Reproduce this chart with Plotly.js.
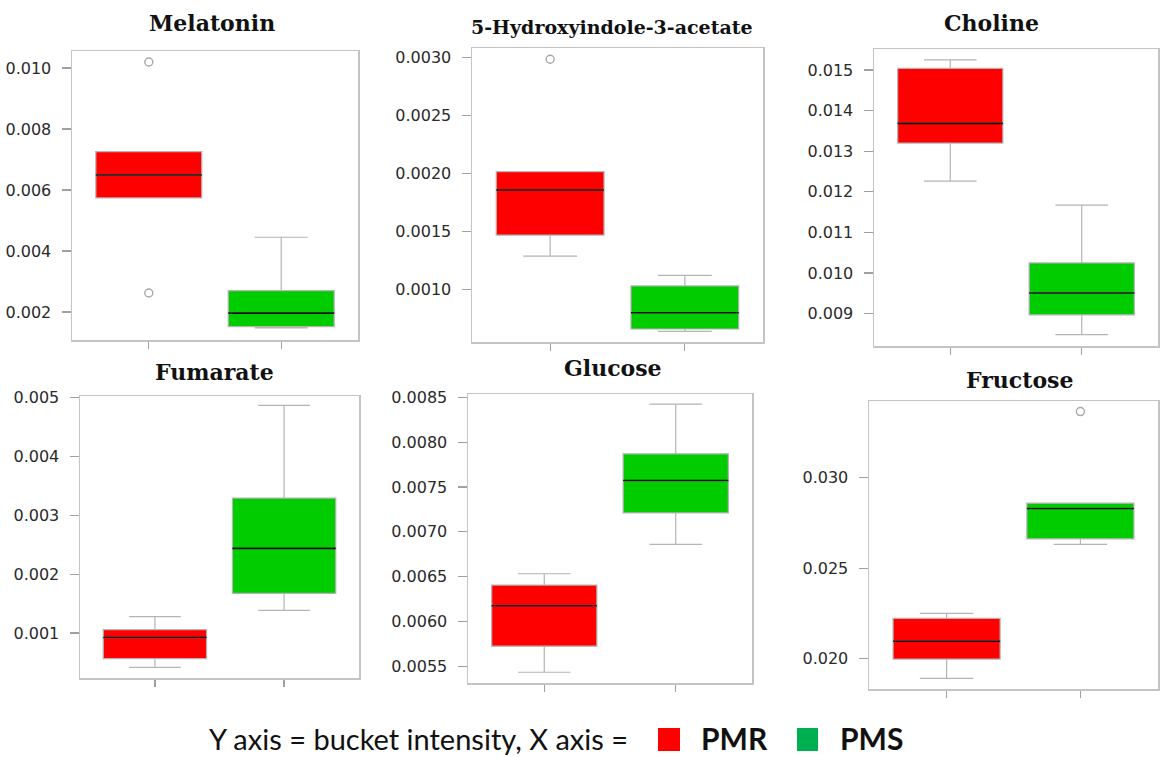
<!DOCTYPE html>
<html>
<head>
<meta charset="utf-8">
<script src="https://cdn.plot.ly/plotly-3.0.1.min.js"></script>
<style>html,body{margin:0;padding:0;background:#fff;}#chart{width:1161px;height:757px;}</style>
</head>
<body>
<div id="chart"></div>
<script>
// ---------- data ----------
const metabolites = ['Melatonin', '5-Hydroxyindole-3-acetate', 'Choline', 'Fumarate', 'Glucose', 'Fructose'];
const groups = ['PMR', 'PMS'];

const pmrLower  = [0.00574, 0.001287, 0.012263, 0.000417, 0.005433, 0.018893];
const pmrQ1     = [0.00574, 0.001468, 0.01320,  0.000565, 0.005724, 0.019961];
const pmrMedian = [0.00649, 0.001856, 0.013685, 0.000922, 0.006175, 0.020946];
const pmrQ3     = [0.00726, 0.002014, 0.01504,  0.001058, 0.006406, 0.022219];
const pmrUpper  = [0.00726, 0.002014, 0.01525,  0.001279, 0.006532, 0.022496];
const pmrOutliers = [[0.0102, 0.00262], [0.002983], [], [], [], []];

const pmsLower  = [0.00148, 0.000638, 0.008482, 0.001384, 0.006861, 0.026314];
const pmsQ1     = [0.00152, 0.000658, 0.008968, 0.001673, 0.007211, 0.026624];
const pmsMedian = [0.00196, 0.000798, 0.009508, 0.002438, 0.007572, 0.028307];
const pmsQ3     = [0.00270, 0.001029, 0.010248, 0.003293, 0.007870, 0.028600];
const pmsUpper  = [0.00445, 0.001120, 0.011671, 0.004869, 0.008426, 0.028600];
const pmsOutliers = [[], [], [], [], [], [0.033675]];

const caption = 'Y axis = bucket intensity, X axis =';

// ---------- layout config ----------
const W = 1161, H = 757;
const frames = [ // [left, right, top, bottom] in px
  [72, 358, 51, 340],
  [472, 763, 48, 342],
  [874, 1158, 49, 346],
  [80, 359, 396, 678],
  [468, 752, 394, 683],
  [869, 1158, 401, 689]
];
const yRanges = [
  [0.00108, 0.01056],
  [0.000546, 0.00308],
  [0.008201, 0.015518],
  [0.000235, 0.005027],
  [0.005313, 0.008538],
  [0.018301, 0.034261]
];
const yDticks = [0.002, 0.0005, 0.001, 0.001, 0.0005, 0.005];
const yFormats = ['.3f', '.4f', '.3f', '.3f', '.4f', '.3f'];
const titlePos = [[212, 23, 22], [612, 27, 19], [991, 23, 22], [214, 372, 22], [613, 368, 22], [1019, 380, 22]];

const colors = {PMR: '#ff0000', PMS: '#00cc00'};
const boxLine = '#b4b4b4';

const px = x => x / W;
const py = y => 1 - y / H;

const traces = [];
const layout = {
  width: W, height: H,
  margin: {l: 0, r: 0, t: 0, b: 0},
  paper_bgcolor: '#fff', plot_bgcolor: '#fff',
  showlegend: false,
  annotations: [], shapes: []
};

metabolites.forEach((name, i) => {
  const n = i + 1;
  const xa = 'x' + (n === 1 ? '' : n), ya = 'y' + (n === 1 ? '' : n);
  const xk = 'xaxis' + (n === 1 ? '' : n), yk = 'yaxis' + (n === 1 ? '' : n);
  const f = frames[i];
  layout[xk] = {
    domain: [px(f[0]), px(f[1])], anchor: ya,
    range: [-0.58, 1.58], tickvals: [0, 1], showticklabels: false,
    ticks: 'outside', ticklen: 7, tickcolor: '#a0a0a0', tickwidth: 1.2,
    showline: true, mirror: true, linecolor: '#c4c4c4', linewidth: 1.5,
    showgrid: false, zeroline: false, fixedrange: true
  };
  layout[yk] = {
    domain: [py(f[3]), py(f[2])], anchor: xa,
    range: yRanges[i], dtick: yDticks[i], tick0: 0, tickformat: yFormats[i],
    ticks: 'outside', ticklen: 9, tickcolor: '#a0a0a0', tickwidth: 1.2,
    ticklabelstandoff: 7,
    tickfont: {family: 'DejaVu Sans', size: 16, color: '#2a2a2a'},
    showline: true, mirror: true, linecolor: '#c4c4c4', linewidth: 1.5,
    showgrid: false, zeroline: false, fixedrange: true
  };
  const groupStats = [
    ['PMR', pmrLower[i], pmrQ1[i], pmrMedian[i], pmrQ3[i], pmrUpper[i], pmrOutliers[i]],
    ['PMS', pmsLower[i], pmsQ1[i], pmsMedian[i], pmsQ3[i], pmsUpper[i], pmsOutliers[i]]
  ];
  groupStats.forEach((g, gi) => {
    traces.push({
      type: 'box', name: g[0], xaxis: xa, yaxis: ya, x: [gi],
      lowerfence: [g[1]], q1: [g[2]], median: [g[3]], q3: [g[4]], upperfence: [g[5]],
      width: 0.8, whiskerwidth: 0.5, boxpoints: false,
      fillcolor: colors[g[0]], line: {color: boxLine, width: 1.2},
      hoverinfo: 'skip'
    });
    traces.push({
      type: 'box', name: g[0] + ' median', xaxis: xa, yaxis: ya, x: [gi],
      lowerfence: [g[3]], q1: [g[3]], median: [g[3]], q3: [g[3]], upperfence: [g[3]],
      width: 0.8, whiskerwidth: 0, boxpoints: false,
      fillcolor: 'rgba(0,0,0,0)', line: {color: '#111', width: 1.6},
      hoverinfo: 'skip'
    });
    if (g[6].length) {
      traces.push({
        type: 'scatter', mode: 'markers', name: g[0] + ' outliers', xaxis: xa, yaxis: ya,
        x: g[6].map(() => gi), y: g[6],
        marker: {symbol: 'circle-open', size: 8, color: '#a8a8a8', line: {width: 1.4}},
        hoverinfo: 'skip'
      });
    }
  });
  const t = titlePos[i];
  layout.annotations.push({
    xref: 'paper', yref: 'paper', x: px(t[0]), y: py(t[1]),
    xanchor: 'center', yanchor: 'middle', showarrow: false, text: name,
    font: {family: 'DejaVu Serif', size: t[2], weight: 'bold', color: '#111'}
  });
});

// caption / key
layout.annotations.push({
  xref: 'paper', yref: 'paper', x: px(207), y: py(738), xanchor: 'left', yanchor: 'middle',
  showarrow: false, text: caption, font: {family: 'Lato', size: 29, color: '#111'}
});
layout.annotations.push({
  xref: 'paper', yref: 'paper', x: px(699), y: py(738), xanchor: 'left', yanchor: 'middle',
  showarrow: false, text: groups[0], font: {family: 'Lato', size: 30, weight: 'bold', color: '#111'}
});
layout.annotations.push({
  xref: 'paper', yref: 'paper', x: px(838), y: py(738), xanchor: 'left', yanchor: 'middle',
  showarrow: false, text: groups[1], font: {family: 'Lato', size: 30, weight: 'bold', color: '#111'}
});
layout.shapes.push({type: 'rect', xref: 'paper', yref: 'paper', x0: px(658), x1: px(680), y0: py(751), y1: py(728), fillcolor: '#ff0000', line: {width: 0}});
layout.shapes.push({type: 'rect', xref: 'paper', yref: 'paper', x0: px(797), x1: px(818), y0: py(751), y1: py(728), fillcolor: '#00b050', line: {width: 0}});

Plotly.newPlot('chart', traces, layout, {displayModeBar: false, staticPlot: true});
</script>
</body>
</html>
